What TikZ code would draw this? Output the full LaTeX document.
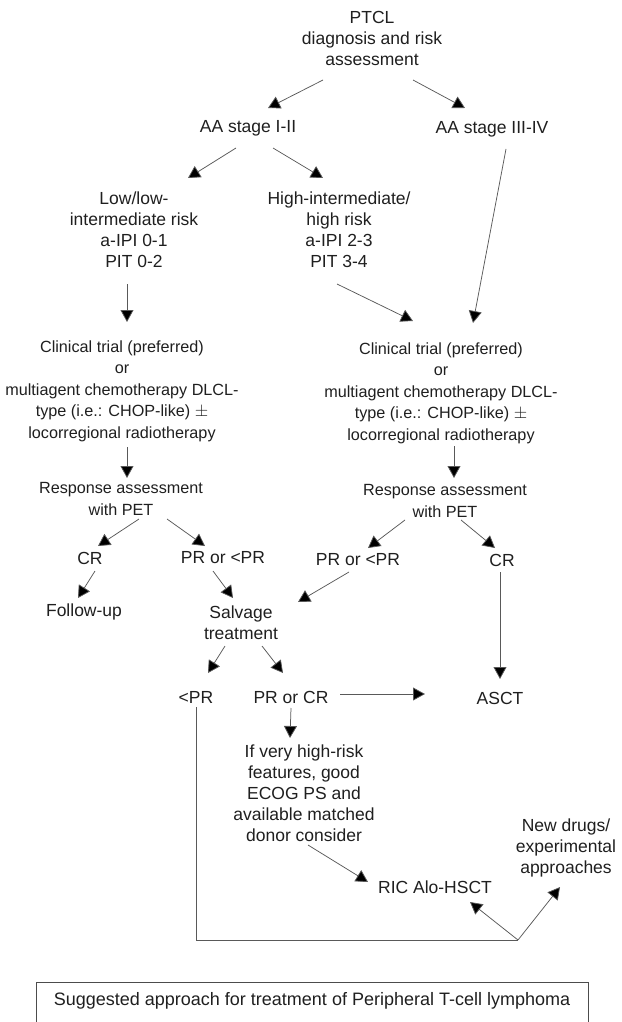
\documentclass[tikz,border=0pt]{standalone}
\usepackage{fontspec}
\setmainfont{Liberation Sans}
\usetikzlibrary{arrows.meta,calc}
\begin{document}
\begin{tikzpicture}[x=1pt,y=-1pt,
  txt/.style={inner sep=0pt,align=center,font=\fontsize{17.5}{21}\selectfont,text=black!88},
  stxt/.style={txt,font=\fontsize{16.2}{21.5}\selectfont},
  conn/.style={draw=black!65,line width=0.75pt,-{Triangle[length=12pt,width=13pt,fill=black]}},
  plain/.style={draw=black!65,line width=0.75pt}]
\useasboundingbox (0,0) rectangle (621,1022);
% nodes
\node[txt] (ptcl) at (372,38) {PTCL\\diagnosis and risk\\assessment};
\node[txt] (aa12) at (248,128) {AA stage I-II};
\node[txt] (aa34) at (492,129) {AA stage III-IV};
\node[txt] (low) at (134,230) {Low/low-\\intermediate risk\\a-IPI 0-1\\PIT 0-2};
\node[txt] (high) at (339,230) {High-intermediate/\\high risk\\a-IPI 2-3\\PIT 3-4};
\node[stxt] (ctL) at (122,391) {Clinical trial (preferred)\\or\\multiagent chemotherapy DLCL-\\type (i.e.: CHOP-like) $\pm$\\locorregional radiotherapy};
\node[stxt] (ctR) at (441,393) {Clinical trial (preferred)\\or\\multiagent chemotherapy DLCL-\\type (i.e.: CHOP-like) $\pm$\\locorregional radiotherapy};
\node[stxt] (respL) at (121,499) {Response assessment\\with PET};
\node[stxt] (respR) at (445,501) {Response assessment\\with PET};
\node[txt] (crL) at (90,558) {CR};
\node[txt] (prL) at (223,558) {PR or {\textless}PR};
\node[txt] (prR) at (358,560) {PR or {\textless}PR};
\node[txt] (crR) at (502,560) {CR};
\node[txt] (follow) at (84,612) {Follow-up};
\node[txt] (salv) at (241,623) {Salvage\\treatment};
\node[txt] (ltpr) at (196,697) {{\textless}PR};
\node[txt] (prcr) at (291,697) {PR or CR};
\node[txt] (asct) at (500,698) {ASCT};
\node[txt] (ifv) at (304,793) {If very high-risk\\features, good\\ECOG PS and\\available matched\\donor consider};
\node[txt] (ric) at (435,887) {RIC Alo-HSCT};
\node[txt] (newd) at (566,848) {New drugs/\\experimental\\approaches};
\coordinate (j) at (518,940);
% connectors
\draw[conn] ([shift={(-49,42)}]ptcl.center) -- ([shift={(20,-20)}]aa12.center);
\draw[conn] ([shift={(41,42)}]ptcl.center) -- ([shift={(-27,-21)}]aa34.center);
\draw[conn] ([shift={(-12,20)}]aa12.center) -- ([shift={(54,-52)}]low.center);
\draw[conn] ([shift={(25,20)}]aa12.center) -- ([shift={(-16,-52)}]high.center);
\draw[conn] ([shift={(14,20)}]aa34.center) -- ([shift={(32,-70)}]ctR.center);
\draw[conn] ([shift={(-7,54)}]low.center) -- ([shift={(5,-69)}]ctL.center);
\draw[conn] ([shift={(-2,54)}]high.center) -- ([shift={(-28,-72)}]ctR.center);
\draw[conn] ([shift={(5,56)}]ctL.center) -- ([shift={(6,-21)}]respL.center);
\draw[conn] ([shift={(13,53)}]ctR.center) -- ([shift={(9,-23)}]respR.center);
\draw[conn] ([shift={(18,20)}]respL.center) -- ([shift={(8,-12)}]crL.center);
\draw[conn] ([shift={(46,20)}]respL.center) -- ([shift={(-18,-12)}]prL.center);
\draw[conn] ([shift={(-40,19)}]respR.center) -- ([shift={(10,-12)}]prR.center);
\draw[conn] ([shift={(16,19)}]respR.center) -- ([shift={(-7,-12)}]crR.center);
\draw[conn] ([shift={(5,13)}]crL.center) -- ([shift={(-6,-14)}]follow.center);
\draw[conn] ([shift={(-10,13)}]prL.center) -- ([shift={(-8,-25)}]salv.center);
\draw[conn] ([shift={(-9,12)}]prR.center) -- ([shift={(57,-21)}]salv.center);
\draw[conn] ([shift={(-2,12)}]crR.center) -- ([shift={(0,-19)}]asct.center);
\draw[conn] ([shift={(-16,23)}]salv.center) -- ([shift={(12,-24)}]ltpr.center);
\draw[conn] ([shift={(21,23)}]salv.center) -- ([shift={(-8,-24)}]prcr.center);
\draw[conn] ([shift={(49,-3)}]prcr.center) -- ([shift={(-75,-4)}]asct.center);
\draw[conn] ([shift={(0,11)}]prcr.center) -- ([shift={(-14,-55)}]ifv.center);
\draw[conn] ([shift={(4,52)}]ifv.center) -- ([shift={(-67,-5)}]ric.center);
\draw[plain] ([shift={(0,10)}]ltpr.center) |- (j);
\draw[conn] (j) -- ([shift={(35,15)}]ric.center);
\draw[conn] (j) -- ([shift={(-6,39)}]newd.center);
% caption
\draw[draw=black!70,line width=0.75pt] (36,1023) -- (36,982) -- (588,982) -- (588,1023);
\node[txt,font=\fontsize{18}{21}\selectfont] (cap) at (312,1001) {Suggested approach for treatment of Peripheral T-cell lymphoma};
\end{tikzpicture}
\end{document}
